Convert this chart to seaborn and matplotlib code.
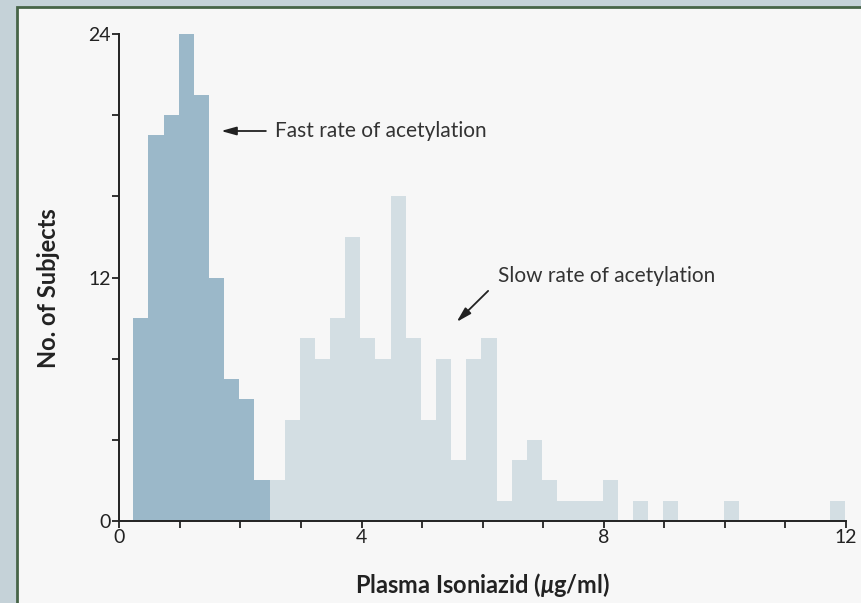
import numpy as np
import pandas as pd
import seaborn as sns
import matplotlib.pyplot as plt
from matplotlib.patches import Rectangle

# histogram counts, bins of 0.25 ug/ml starting just above 0
bin_start = 0.23
bin_width = 0.25
fast_counts = [10, 19, 20, 24, 21, 12, 7, 6, 2]
slow_counts = [2, 5, 9, 8, 10, 14, 9, 8, 16, 9, 5, 8, 3, 8, 9, 1, 3, 4, 2,
               1, 1, 1, 2, 0, 1, 0, 1, 0, 0, 0, 1, 0, 0, 0, 0, 0, 0, 1]
x_ticks = [0, 4, 8, 12]
y_ticks = [0, 12, 24]

n_bins = len(fast_counts) + len(slow_counts)
edges = bin_start + bin_width * np.arange(n_bins + 1)
centres = (edges[:-1] + edges[1:]) / 2
df = pd.DataFrame({
    'conc': centres,
    'count': fast_counts + slow_counts,
    'group': ['fast'] * len(fast_counts) + ['slow'] * len(slow_counts),
})

sns.set_style('ticks')
plt.rcParams['font.family'] = ['Lato', 'DejaVu Sans']
plt.rcParams['mathtext.fontset'] = 'custom'
plt.rcParams['mathtext.it'] = 'Lato:italic:bold'
plt.rcParams['mathtext.rm'] = 'Lato:bold'

fig = plt.figure(figsize=(8.61, 6.03), dpi=100, facecolor='#c5d2d8')
panel = Rectangle((17 / 861, -0.05), 1.0, 1.05 - 7 / 603,
                  transform=fig.transFigure, facecolor='#f7f7f7',
                  edgecolor='#476447', linewidth=2, zorder=-10)
fig.patches.append(panel)
ax = fig.add_axes([0.1386, 0.136, 0.844, 0.8076])
ax.set_facecolor('none')
ax.set_zorder(5)

sns.histplot(data=df, x='conc', weights='count', hue='group',
             bins=[float(e) for e in edges],
             palette={'fast': '#9bb8c9', 'slow': '#d3dee3'}, alpha=1,
             linewidth=0, legend=False, ax=ax)

ax.set_xlim(0, 12)
ax.set_ylim(0, 24)
ax.set_xticks(range(0, 13))
ax.set_xticklabels([str(t) if t in x_ticks else '' for t in range(0, 13)])
ax.set_yticks(range(0, 25, 4))
ax.set_yticklabels([str(t) if t in y_ticks else '' for t in range(0, 25, 4)])
ax.tick_params(axis='both', direction='out', length=5, width=1.3,
               color='#222222', labelsize=14, labelcolor='#222222', pad=1)
sns.despine(ax=ax)
for s in ['left', 'bottom']:
    ax.spines[s].set_linewidth(1.4)
    ax.spines[s].set_color('#222222')

ax.set_xlabel('Plasma Isoniazid ($\\mu$g/ml)', fontsize=17, fontweight='bold',
              color='#222222')
ax.set_ylabel('No. of Subjects', fontsize=17, fontweight='bold',
              color='#222222')
ax.xaxis.set_label_coords(0.5, -0.103)
ax.yaxis.set_label_coords(-0.082, 0.479)

head = '-|>,head_length=0.9,head_width=0.25'
ax.annotate('', xy=(1.68, 19.22), xytext=(2.42, 19.22),
            arrowprops=dict(arrowstyle=head, color='#222222', lw=1.3,
                            shrinkA=0, shrinkB=0))
ax.text(2.57, 19.22, 'Fast rate of acetylation', fontsize=15,
        color='#333333', va='center', ha='left')
ax.annotate('', xy=(5.57, 9.81), xytext=(6.09, 11.34),
            arrowprops=dict(arrowstyle=head, color='#222222', lw=1.3,
                            shrinkA=0, shrinkB=0))
ax.text(6.25, 12.07, 'Slow rate of acetylation', fontsize=15,
        color='#333333', va='center', ha='left')

plt.savefig('out.png', dpi=100, facecolor=fig.get_facecolor())
